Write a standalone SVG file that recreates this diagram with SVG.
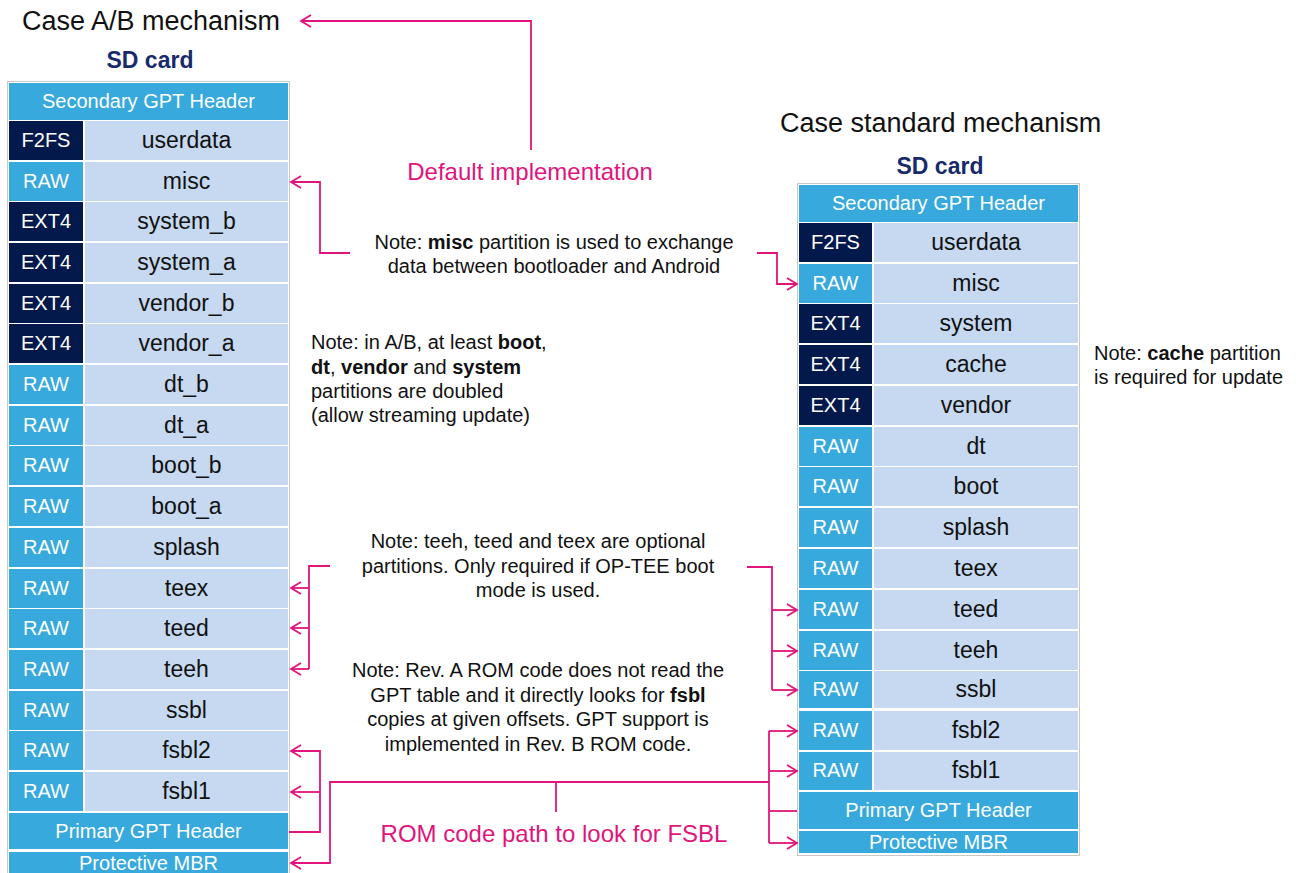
<svg xmlns="http://www.w3.org/2000/svg" width="1302" height="873" viewBox="0 0 1302 873">
<defs>
<marker id="arr" markerUnits="userSpaceOnUse" markerWidth="14" markerHeight="16" refX="12" refY="8" orient="auto">
<path d="M2,2 L12,8 L2,14" fill="none" stroke="#E0147C" stroke-width="1.8"/>
</marker>
<style>
text{font-family:"Liberation Sans",Arial,sans-serif}
.title{font-size:27px;fill:#111}
.sd{font-size:23px;font-weight:bold;fill:#172B6B;text-anchor:middle}
.hdr{fill:#37A9DC}
.hdrt{font-size:20px;fill:#fff;text-anchor:middle}
.navy{fill:#03194B}
.blue{fill:#37A9DC}
.name{fill:#C6D9F0}
.typ{font-size:20px;fill:#fff;text-anchor:middle}
.nm{font-size:23px;fill:#111;text-anchor:middle}
.note{font-size:20px;fill:#111}
.mid{text-anchor:middle}
.mag{font-size:24px;fill:#E0147C;text-anchor:middle}
.frame{fill:#fff;stroke:#C8C8C8;stroke-width:1}
.c{fill:none;stroke:#E0147C;stroke-width:1.8}
</style>
</defs>
<rect width="1302" height="873" fill="#fff"/>

<text class="title" x="22" y="30">Case A/B mechanism</text>
<text class="sd" x="150" y="68">SD card</text>
<text class="title" x="780" y="132">Case standard mechanism</text>
<text class="sd" x="940" y="174">SD card</text>

<!-- Left table -->
<g id="left-table">
<rect class="frame" x="7.5" y="81.5" width="282" height="800"/>
<g id="L-secgpt"><rect class="hdr" x="9" y="83" width="279" height="37"/><text class="hdrt" x="148.5" y="108">Secondary GPT Header</text></g>
<g id="L-userdata"><rect class="navy" x="9" y="121" width="74" height="39"/><rect class="name" x="85" y="121" width="203" height="39"/><text class="typ" x="46" y="147">F2FS</text><text class="nm" x="186.5" y="148">userdata</text></g>
<g id="L-misc"><rect class="blue" x="9" y="162" width="74" height="39"/><rect class="name" x="85" y="162" width="203" height="39"/><text class="typ" x="46" y="188">RAW</text><text class="nm" x="186.5" y="189">misc</text></g>
<g id="L-system_b"><rect class="navy" x="9" y="202" width="74" height="39"/><rect class="name" x="85" y="202" width="203" height="39"/><text class="typ" x="46" y="228">EXT4</text><text class="nm" x="186.5" y="229">system_b</text></g>
<g id="L-system_a"><rect class="navy" x="9" y="243" width="74" height="39"/><rect class="name" x="85" y="243" width="203" height="39"/><text class="typ" x="46" y="269">EXT4</text><text class="nm" x="186.5" y="270">system_a</text></g>
<g id="L-vendor_b"><rect class="navy" x="9" y="284" width="74" height="39"/><rect class="name" x="85" y="284" width="203" height="39"/><text class="typ" x="46" y="310">EXT4</text><text class="nm" x="186.5" y="311">vendor_b</text></g>
<g id="L-vendor_a"><rect class="navy" x="9" y="324" width="74" height="39"/><rect class="name" x="85" y="324" width="203" height="39"/><text class="typ" x="46" y="350">EXT4</text><text class="nm" x="186.5" y="351">vendor_a</text></g>
<g id="L-dt_b"><rect class="blue" x="9" y="365" width="74" height="39"/><rect class="name" x="85" y="365" width="203" height="39"/><text class="typ" x="46" y="391">RAW</text><text class="nm" x="186.5" y="392">dt_b</text></g>
<g id="L-dt_a"><rect class="blue" x="9" y="406" width="74" height="39"/><rect class="name" x="85" y="406" width="203" height="39"/><text class="typ" x="46" y="432">RAW</text><text class="nm" x="186.5" y="433">dt_a</text></g>
<g id="L-boot_b"><rect class="blue" x="9" y="446" width="74" height="39"/><rect class="name" x="85" y="446" width="203" height="39"/><text class="typ" x="46" y="472">RAW</text><text class="nm" x="186.5" y="473">boot_b</text></g>
<g id="L-boot_a"><rect class="blue" x="9" y="487" width="74" height="39"/><rect class="name" x="85" y="487" width="203" height="39"/><text class="typ" x="46" y="513">RAW</text><text class="nm" x="186.5" y="514">boot_a</text></g>
<g id="L-splash"><rect class="blue" x="9" y="528" width="74" height="39"/><rect class="name" x="85" y="528" width="203" height="39"/><text class="typ" x="46" y="554">RAW</text><text class="nm" x="186.5" y="555">splash</text></g>
<g id="L-teex"><rect class="blue" x="9" y="569" width="74" height="39"/><rect class="name" x="85" y="569" width="203" height="39"/><text class="typ" x="46" y="595">RAW</text><text class="nm" x="186.5" y="596">teex</text></g>
<g id="L-teed"><rect class="blue" x="9" y="609" width="74" height="39"/><rect class="name" x="85" y="609" width="203" height="39"/><text class="typ" x="46" y="635">RAW</text><text class="nm" x="186.5" y="636">teed</text></g>
<g id="L-teeh"><rect class="blue" x="9" y="650" width="74" height="39"/><rect class="name" x="85" y="650" width="203" height="39"/><text class="typ" x="46" y="676">RAW</text><text class="nm" x="186.5" y="677">teeh</text></g>
<g id="L-ssbl"><rect class="blue" x="9" y="691" width="74" height="39"/><rect class="name" x="85" y="691" width="203" height="39"/><text class="typ" x="46" y="717">RAW</text><text class="nm" x="186.5" y="718">ssbl</text></g>
<g id="L-fsbl2"><rect class="blue" x="9" y="731" width="74" height="39"/><rect class="name" x="85" y="731" width="203" height="39"/><text class="typ" x="46" y="757">RAW</text><text class="nm" x="186.5" y="758">fsbl2</text></g>
<g id="L-fsbl1"><rect class="blue" x="9" y="772" width="74" height="39"/><rect class="name" x="85" y="772" width="203" height="39"/><text class="typ" x="46" y="798">RAW</text><text class="nm" x="186.5" y="799">fsbl1</text></g>
<g id="L-primgpt"><rect class="hdr" x="9" y="813" width="279" height="36"/><text class="hdrt" x="148.5" y="838">Primary GPT Header</text></g>
<g id="L-mbr"><rect class="hdr" x="9" y="852" width="279" height="24"/><text class="hdrt" x="148.5" y="870">Protective MBR</text></g>
</g>

<!-- Right table -->
<g id="right-table">
<rect class="frame" x="797.5" y="183.5" width="282" height="672"/>
<g id="R-secgpt"><rect class="hdr" x="799" y="185" width="279" height="37"/><text class="hdrt" x="938.5" y="210">Secondary GPT Header</text></g>
<g id="R-userdata"><rect class="navy" x="799" y="223" width="73" height="39"/><rect class="name" x="874" y="223" width="204" height="39"/><text class="typ" x="835.5" y="249">F2FS</text><text class="nm" x="976" y="250">userdata</text></g>
<g id="R-misc"><rect class="blue" x="799" y="264" width="73" height="39"/><rect class="name" x="874" y="264" width="204" height="39"/><text class="typ" x="835.5" y="290">RAW</text><text class="nm" x="976" y="291">misc</text></g>
<g id="R-system"><rect class="navy" x="799" y="304" width="73" height="39"/><rect class="name" x="874" y="304" width="204" height="39"/><text class="typ" x="835.5" y="330">EXT4</text><text class="nm" x="976" y="331">system</text></g>
<g id="R-cache"><rect class="navy" x="799" y="345" width="73" height="39"/><rect class="name" x="874" y="345" width="204" height="39"/><text class="typ" x="835.5" y="371">EXT4</text><text class="nm" x="976" y="372">cache</text></g>
<g id="R-vendor"><rect class="navy" x="799" y="386" width="73" height="39"/><rect class="name" x="874" y="386" width="204" height="39"/><text class="typ" x="835.5" y="412">EXT4</text><text class="nm" x="976" y="413">vendor</text></g>
<g id="R-dt"><rect class="blue" x="799" y="427" width="73" height="39"/><rect class="name" x="874" y="427" width="204" height="39"/><text class="typ" x="835.5" y="453">RAW</text><text class="nm" x="976" y="454">dt</text></g>
<g id="R-boot"><rect class="blue" x="799" y="467" width="73" height="39"/><rect class="name" x="874" y="467" width="204" height="39"/><text class="typ" x="835.5" y="493">RAW</text><text class="nm" x="976" y="494">boot</text></g>
<g id="R-splash"><rect class="blue" x="799" y="508" width="73" height="39"/><rect class="name" x="874" y="508" width="204" height="39"/><text class="typ" x="835.5" y="534">RAW</text><text class="nm" x="976" y="535">splash</text></g>
<g id="R-teex"><rect class="blue" x="799" y="549" width="73" height="39"/><rect class="name" x="874" y="549" width="204" height="39"/><text class="typ" x="835.5" y="575">RAW</text><text class="nm" x="976" y="576">teex</text></g>
<g id="R-teed"><rect class="blue" x="799" y="590" width="73" height="39"/><rect class="name" x="874" y="590" width="204" height="39"/><text class="typ" x="835.5" y="616">RAW</text><text class="nm" x="976" y="617">teed</text></g>
<g id="R-teeh"><rect class="blue" x="799" y="631" width="73" height="39"/><rect class="name" x="874" y="631" width="204" height="39"/><text class="typ" x="835.5" y="657">RAW</text><text class="nm" x="976" y="658">teeh</text></g>
<g id="R-ssbl"><rect class="blue" x="799" y="671" width="73" height="37"/><rect class="name" x="874" y="671" width="204" height="37"/><text class="typ" x="835.5" y="696">RAW</text><text class="nm" x="976" y="697">ssbl</text></g>
<g id="R-fsbl2"><rect class="blue" x="799" y="711" width="73" height="39"/><rect class="name" x="874" y="711" width="204" height="39"/><text class="typ" x="835.5" y="737">RAW</text><text class="nm" x="976" y="738">fsbl2</text></g>
<g id="R-fsbl1"><rect class="blue" x="799" y="752" width="73" height="38"/><rect class="name" x="874" y="752" width="204" height="38"/><text class="typ" x="835.5" y="777">RAW</text><text class="nm" x="976" y="778">fsbl1</text></g>
<g id="R-primgpt"><rect class="hdr" x="799" y="792" width="279" height="37"/><text class="hdrt" x="938.5" y="817">Primary GPT Header</text></g>
<g id="R-mbr"><rect class="hdr" x="799" y="831" width="279" height="22"/><text class="hdrt" x="938.5" y="849">Protective MBR</text></g>
</g>

<!-- Notes -->
<g id="note-default"><text class="mag" x="530" y="180">Default implementation</text></g>
<g id="note-misc">
<text class="note mid" x="554" y="249">Note: <tspan font-weight="bold">misc</tspan> partition is used to exchange</text>
<text class="note mid" x="554" y="273">data between bootloader and Android</text>
</g>
<g id="note-ab">
<text class="note" x="311" y="349">Note: in A/B, at least <tspan font-weight="bold">boot</tspan>,</text>
<text class="note" x="311" y="374"><tspan font-weight="bold">dt</tspan>, <tspan font-weight="bold">vendor</tspan> and <tspan font-weight="bold">system</tspan></text>
<text class="note" x="311" y="398">partitions are doubled</text>
<text class="note" x="311" y="422">(allow streaming update)</text>
</g>
<g id="note-cache">
<text class="note" x="1094" y="360">Note: <tspan font-weight="bold">cache</tspan> partition</text>
<text class="note" x="1094" y="384">is required for update</text>
</g>
<g id="note-tee">
<text class="note mid" x="538" y="548">Note: teeh, teed and teex are optional</text>
<text class="note mid" x="538" y="573">partitions. Only required if OP-TEE boot</text>
<text class="note mid" x="538" y="597">mode is used.</text>
</g>
<g id="note-rom">
<text class="note mid" x="538" y="677">Note: Rev. A ROM code does not read the</text>
<text class="note mid" x="538" y="702">GPT table and it directly looks for <tspan font-weight="bold">fsbl</tspan></text>
<text class="note mid" x="538" y="726">copies at given offsets. GPT support is</text>
<text class="note mid" x="538" y="751">implemented in Rev. B ROM code.</text>
</g>
<g id="note-rompath"><text class="mag" x="554" y="842">ROM code path to look for FSBL</text></g>

<!-- Connectors -->
<g id="connectors">
<path class="c" d="M531,150 V21 H301" marker-end="url(#arr)"/>
<path class="c" d="M350,253 H320 V182 H291" marker-end="url(#arr)"/>
<path class="c" d="M757,253 H777 V284 H797" marker-end="url(#arr)"/>
<path class="c" d="M330,566 H309 V669"/>
<path class="c" d="M309,588 H291" marker-end="url(#arr)"/>
<path class="c" d="M309,628 H291" marker-end="url(#arr)"/>
<path class="c" d="M309,669 H291" marker-end="url(#arr)"/>
<path class="c" d="M747,567 H772 V690"/>
<path class="c" d="M772,610 H797" marker-end="url(#arr)"/>
<path class="c" d="M772,651 H797" marker-end="url(#arr)"/>
<path class="c" d="M772,690 H797" marker-end="url(#arr)"/>
<path class="c" d="M289,832 H320 V751 H291" marker-end="url(#arr)"/>
<path class="c" d="M320,792 H291" marker-end="url(#arr)"/>
<path class="c" d="M556,812 V782"/>
<path class="c" d="M769,782 H330 V863 H291" marker-end="url(#arr)"/>
<path class="c" d="M769,731 V843"/>
<path class="c" d="M769,731 H797" marker-end="url(#arr)"/>
<path class="c" d="M769,771 H797" marker-end="url(#arr)"/>
<path class="c" d="M769,811 H797"/>
<path class="c" d="M769,843 H797" marker-end="url(#arr)"/>
</g>
</svg>
